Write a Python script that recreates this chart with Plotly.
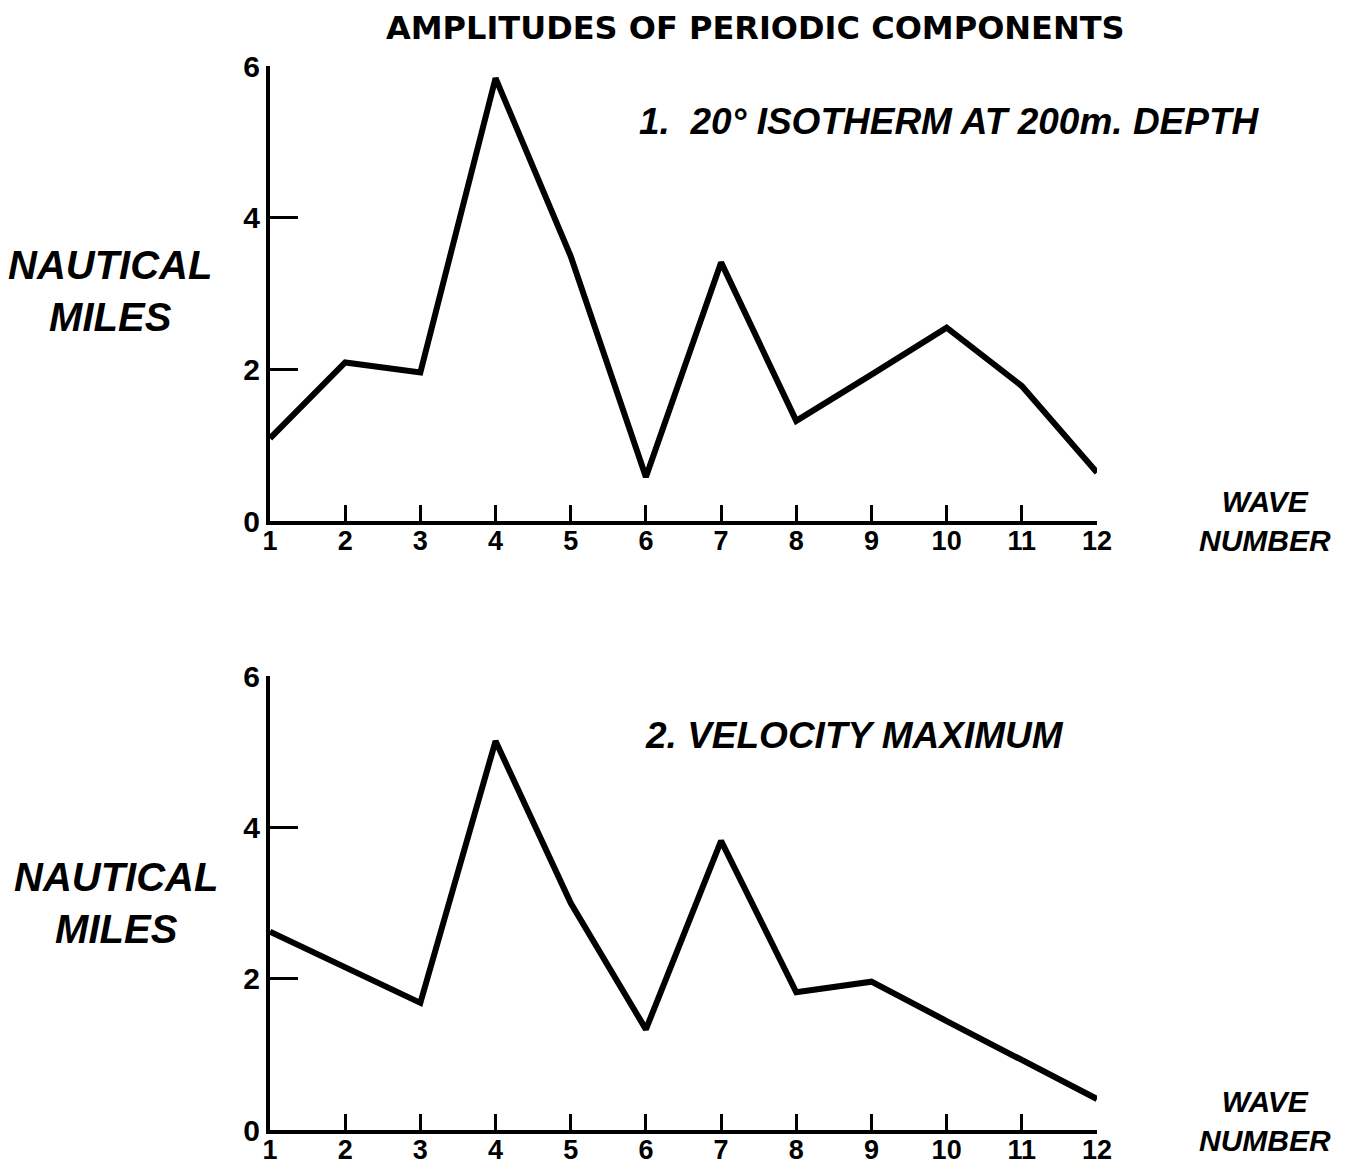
import plotly.graph_objects as go
from plotly.subplots import make_subplots

# wave numbers and amplitudes (nautical miles)
wave_number = list(range(1, 13))
isotherm_amp = [1.09, 2.09, 1.96, 5.84, 3.49, 0.58, 3.41, 1.32, 1.93, 2.55, 1.78, 0.64]
velocity_amp = [2.62, 2.15, 1.68, 5.14, 3.00, 1.33, 3.82, 1.82, 1.96, 1.44, 0.93, 0.41]
y_ticks = [0, 2, 4, 6]

# the page body adds an 8px margin round the figure
OFF = 8
W, H = 1354 - OFF, 1170 - OFF
FONT = "Liberation Sans"


def px_x(p):
    return (p - OFF) / W


def px_y(p):
    return 1 - (p - OFF) / H


fig = make_subplots(rows=2, cols=1)
fig.add_trace(go.Scatter(x=wave_number, y=isotherm_amp, mode='lines',
                         line=dict(color='black', width=6)), row=1, col=1)
fig.add_trace(go.Scatter(x=wave_number, y=velocity_amp, mode='lines',
                         line=dict(color='black', width=6)), row=2, col=1)

x_dom = [px_x(270), px_x(1097)]
ax_common = dict(showgrid=False, zeroline=False, showline=True, linecolor='black', linewidth=4,
                 ticks='inside', tickcolor='black', tickwidth=3, automargin=False)

fig.update_xaxes(domain=x_dom, range=[1, 12], tickmode='array', tickvals=wave_number,
                 ticklen=16, ticklabelstandoff=-7,
                 tickfont=dict(family=FONT, size=27, color='black', weight='bold'), **ax_common)
fig.update_yaxes(range=[0, 6], tickmode='array', tickvals=y_ticks, ticklen=28,
                 tickfont=dict(family=FONT, size=30, color='black', weight='bold'), **ax_common)
fig.update_yaxes(domain=[px_y(521), px_y(66)], row=1, col=1)
fig.update_yaxes(domain=[px_y(1130), px_y(676)], row=2, col=1)

label_font = dict(family=FONT, size=40, color='black')
sub_font = dict(family=FONT, size=37, color='black')
wave_font = dict(family=FONT, size=30, color='black')
annos = [
    dict(text="<b>AMPLITUDES OF PERIODIC COMPONENTS</b>", x=px_x(755), y=px_y(28),
         font=dict(family="DejaVu Sans", size=32, color='black')),
    dict(text="<b><i>1.  20° ISOTHERM AT 200m. DEPTH</i></b>", x=px_x(950), y=px_y(122), font=sub_font),
    dict(text="<b><i>2. VELOCITY MAXIMUM</i></b>", x=px_x(854), y=px_y(735), font=sub_font),
    dict(text="<b><i>NAUTICAL<br>MILES</i></b>", x=px_x(110), y=px_y(291), font=label_font),
    dict(text="<b><i>NAUTICAL<br>MILES</i></b>", x=px_x(116), y=px_y(903), font=label_font),
    dict(text="<b><i>WAVE<br>NUMBER</i></b>", x=px_x(1265), y=px_y(521), font=wave_font),
    dict(text="<b><i>WAVE<br>NUMBER</i></b>", x=px_x(1265), y=px_y(1121), font=wave_font),
]
for a in annos:
    fig.add_annotation(xref='paper', yref='paper', showarrow=False, xanchor='center',
                       yanchor='middle', align='center', **a)

fig.update_layout(width=W, height=H, margin=dict(l=0, r=0, t=0, b=0),
                  plot_bgcolor='white', paper_bgcolor='white', showlegend=False)

fig.write_html("out.html")
